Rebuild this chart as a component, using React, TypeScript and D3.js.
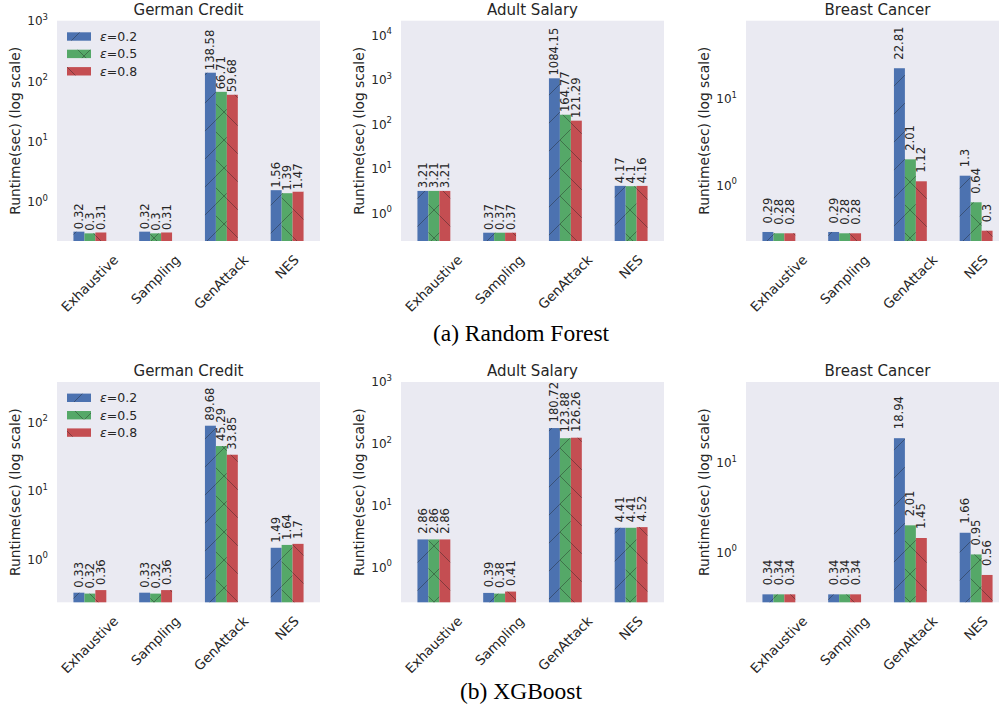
import { useEffect, useRef } from "react"
import * as d3 from "d3"

const categories = ["Exhaustive", "Sampling", "GenAttack", "NES"]
const epsilons = ["0.2", "0.5", "0.8"]
const colors = ["#4C72B0", "#55A868", "#C44E52"]
const hatchIds = ["hatch-fwd", "hatch-cross", "hatch-back"]

// runtimes (sec), one row per epsilon, in category order
const rfGerman = [[0.32, 0.32, 138.58, 1.56], [0.3, 0.3, 66.71, 1.39], [0.31, 0.31, 59.68, 1.47]]
const rfAdult = [[3.21, 0.37, 1084.15, 4.17], [3.21, 0.37, 164.77, 4.1], [3.21, 0.37, 121.29, 4.16]]
const rfBreast = [[0.29, 0.29, 22.81, 1.3], [0.28, 0.28, 2.01, 0.64], [0.28, 0.28, 1.12, 0.3]]
const xgbGerman = [[0.33, 0.33, 89.68, 1.49], [0.32, 0.32, 45.29, 1.64], [0.36, 0.36, 33.85, 1.7]]
const xgbAdult = [[2.86, 0.39, 180.72, 4.41], [2.86, 0.38, 123.88, 4.41], [2.86, 0.41, 126.26, 4.52]]
const xgbBreast = [[0.34, 0.34, 18.94, 1.66], [0.34, 0.34, 2.01, 0.95], [0.34, 0.34, 1.45, 0.56]]

const titles = ["German Credit", "Adult Salary", "Breast Cancer"]
const captions = ["(a) Random Forest", "(b) XGBoost"]
const rows = [[rfGerman, rfAdult, rfBreast], [xgbGerman, xgbAdult, xgbBreast]]
// y limits per panel
const yLimits = [
  [[0.224, 1010], [0.241, 21300], [0.228, 81]],
  [[0.239, 389], [0.275, 1005], [0.277, 80.5]],
]
const labelGaps = [[2.5, 2.7, 8.5], [5, 5.6, 9]]

const W = 999
const H = 709
const colX = [57, 401, 746]
const rowY = [20.7, 382]
const plotW = 263
const plotH = 220.3
const txt = "#262626"
const font = "DejaVu Sans, sans-serif"

export default function App() {
  const svgRef = useRef<SVGSVGElement>(null)

  useEffect(() => {
    if (!svgRef.current) return
    const svg = d3.select(svgRef.current)
    svg.selectAll("*").remove()

    // hatch patterns, one line per tile so crossings repeat every P px
    const defs = svg.append("defs")
    const P = 28
    const pats: { [k: string]: string } = {
      "hatch-fwd": `M-2,${P + 2} L${P + 2},-2`,
      "hatch-back": `M-2,-2 L${P + 2},${P + 2}`,
    }
    pats["hatch-cross"] = pats["hatch-fwd"] + " " + pats["hatch-back"]
    Object.entries(pats).forEach(([id, d]) => {
      defs.append("pattern")
        .attr("id", id)
        .attr("patternUnits", "userSpaceOnUse")
        .attr("width", P)
        .attr("height", P)
        .append("path")
        .attr("d", d)
        .attr("stroke", "#1a1a1a")
        .attr("stroke-opacity", 0.45)
        .attr("stroke-width", 0.85)
        .attr("fill", "none")
    })

    rows.forEach((row, r) => {
      const top = rowY[r]
      const bottom = top + plotH

      row.forEach((data, c) => {
        const left = colX[c]
        const g = svg.append("g")
        const [yMin, yMax] = yLimits[r][c]

        const x = d3.scaleBand().domain(categories).range([left, left + plotW])
        const y = d3.scaleLog().domain([yMin, yMax]).range([bottom, top])
        const groupW = x.bandwidth() * 0.5
        const barW = groupW / epsilons.length

        g.append("rect")
          .attr("x", left).attr("y", top)
          .attr("width", plotW).attr("height", plotH)
          .attr("fill", "#EAEAF2")

        g.append("text")
          .attr("x", left + plotW / 2)
          .attr("y", top - 5.7)
          .attr("text-anchor", "middle")
          .attr("font-size", 15)
          .attr("font-family", font)
          .attr("fill", txt)
          .text(titles[c])

        // bars
        data.forEach((vals, s) => {
          vals.forEach((v, k) => {
            const bx = (x(categories[k]) as number) + x.bandwidth() / 2 - groupW / 2 + s * barW
            const by = y(v)
            g.append("rect")
              .attr("x", bx).attr("y", by)
              .attr("width", barW).attr("height", bottom - by)
              .attr("fill", colors[s])
            g.append("rect")
              .attr("x", bx).attr("y", by)
              .attr("width", barW).attr("height", bottom - by)
              .attr("fill", `url(#${hatchIds[s]})`)
            const lx = bx + barW / 2
            const ly = by - labelGaps[r][c]
            g.append("text")
              .attr("x", lx).attr("y", ly)
              .attr("transform", `rotate(-90, ${lx}, ${ly})`)
              .attr("dominant-baseline", "central")
              .attr("font-size", 11.6)
              .attr("font-family", font)
              .attr("fill", txt)
              .text(String(v))
          })
        })

        // y ticks (powers of ten)
        const lo = Math.ceil(Math.log10(yMin))
        const hi = Math.floor(Math.log10(yMax))
        d3.range(lo, hi + 1).forEach(e => {
          const ty = y(Math.pow(10, e))
          const t = g.append("text")
            .attr("x", left - 9)
            .attr("y", ty + 4.3)
            .attr("text-anchor", "end")
            .attr("font-size", 12)
            .attr("font-family", font)
            .attr("fill", txt)
          t.append("tspan").text("10")
          t.append("tspan").attr("dy", -5.5).attr("font-size", 8.5).text(String(e))
        })

        // y label
        const yl = left - 42
        const ym = top + plotH / 2
        g.append("text")
          .attr("x", yl).attr("y", ym)
          .attr("transform", `rotate(-90, ${yl}, ${ym})`)
          .attr("text-anchor", "middle")
          .attr("dominant-baseline", "central")
          .attr("font-size", 13.8)
          .attr("font-family", font)
          .attr("fill", txt)
          .text("Runtime(sec) (log scale)")

        // x tick labels, rotated 45 with centred bbox
        const fs = 13.4
        categories.forEach(cat => {
          const cx = (x(cat) as number) + x.bandwidth() / 2
          const t = g.append("text")
            .attr("text-anchor", "middle")
            .attr("dominant-baseline", "central")
            .attr("font-size", fs)
            .attr("font-family", font)
            .attr("fill", txt)
            .text(cat)
          const w = (t.node() as SVGTextElement).getComputedTextLength()
          const h = fs * 1.17
          const cy = bottom + 11 + (w + h) / (2 * Math.SQRT2)
          t.attr("x", cx).attr("y", cy).attr("transform", `rotate(-45, ${cx}, ${cy})`)
        })

        // legend in first column
        if (c === 0) {
          epsilons.forEach((eps, s) => {
            const cy = top + 15.8 + s * 17.4
            g.append("rect")
              .attr("x", left + 10).attr("y", cy - 4.2)
              .attr("width", 24).attr("height", 8.4)
              .attr("fill", colors[s])
            g.append("rect")
              .attr("x", left + 10).attr("y", cy - 4.2)
              .attr("width", 24).attr("height", 8.4)
              .attr("fill", `url(#${hatchIds[s]})`)
            const t = g.append("text")
              .attr("x", left + 43).attr("y", cy + 4.3)
              .attr("font-size", 12.5)
              .attr("font-family", font)
              .attr("fill", txt)
            t.append("tspan").attr("font-style", "italic").text("ε")
            t.append("tspan").text("=" + eps)
          })
        }
      })

      svg.append("text")
        .attr("x", 521)
        .attr("y", r === 0 ? 340.5 : 699)
        .attr("text-anchor", "middle")
        .attr("font-size", 23.5)
        .attr("font-family", "Liberation Serif, Times New Roman, serif")
        .attr("fill", "#000")
        .text(captions[r])
    })
  }, [])

  return (
    <div style={{ position: "absolute", left: 0, top: 0 }}>
      <svg ref={svgRef} width={W} height={H} style={{ display: "block", background: "#fff" }} />
    </div>
  )
}
